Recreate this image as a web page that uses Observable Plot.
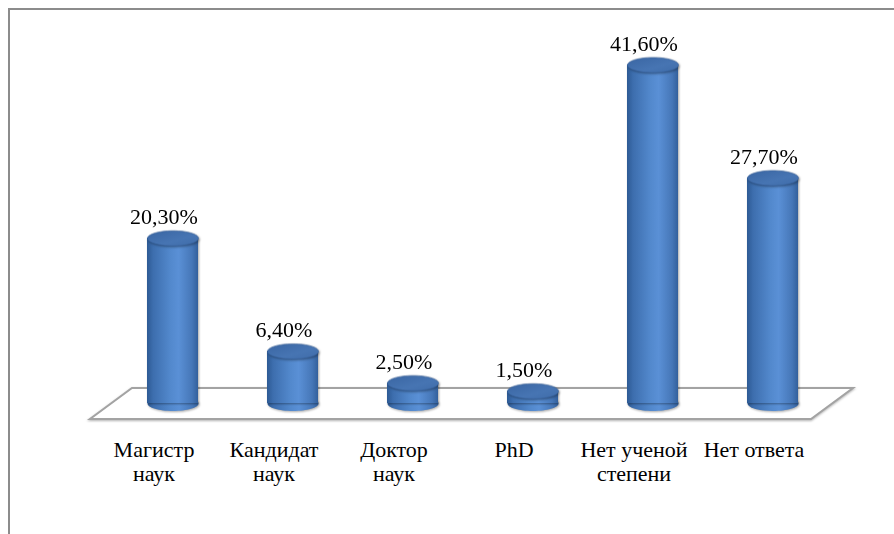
<!DOCTYPE html>
<html>
<head>
<meta charset="utf-8">
<script src="https://cdn.jsdelivr.net/npm/d3@7"></script>
<script src="https://cdn.jsdelivr.net/npm/@observablehq/plot@0.6"></script>
<style>
  html, body { margin: 0; padding: 0; background: #fff; }
  #chart svg { display: block; }
  #chart svg text { font-family: "Liberation Serif", "Times New Roman", Tinos, "DejaVu Serif", serif !important; }
  #chart g[aria-label="bar"], #chart g[aria-label="dot"] { filter: drop-shadow(1px 1px 1.2px rgba(0,0,0,0.35)); }
</style>
</head>
<body>
<div id="chart"></div>
<script>
// ---- data ----
const categories = ["Магистр наук", "Кандидат наук", "Доктор наук", "PhD", "Нет ученой степени", "Нет ответа"];
const categoryLabels = ["Магистр\nнаук", "Кандидат\nнаук", "Доктор\nнаук", "PhD", "Нет ученой\nстепени", "Нет ответа"];
const values = [20.3, 6.4, 2.5, 1.5, 41.6, 27.7];
const valueLabels = ["20,30%", "6,40%", "2,50%", "1,50%", "41,60%", "27,70%"];

const data = categories.map((c, i) => ({cat: c, label: categoryLabels[i], value: values[i], vlabel: valueLabels[i]}));

// ellipse symbol (cylinder caps)
const RX = 25.5, RY = 7.5;
const ellipseSymbol = {
  draw(ctx) {
    const k = 0.5523;
    ctx.moveTo(-RX, 0);
    ctx.bezierCurveTo(-RX, -RY * k, -RX * k, -RY, 0, -RY);
    ctx.bezierCurveTo(RX * k, -RY, RX, -RY * k, RX, 0);
    ctx.bezierCurveTo(RX, RY * k, RX * k, RY, 0, RY);
    ctx.bezierCurveTo(-RX * k, RY, -RX, RY * k, -RX, 0);
    ctx.closePath();
  }
};

const NS = "http://www.w3.org/2000/svg";

// defs + frame + floor (decorations using plot scales)
function decorations(index, scales, values, dimensions) {
  const g = document.createElementNS(NS, "g");
  g.innerHTML = `
    <defs>
      <linearGradient id="cylBody" x1="0" x2="1" y1="0" y2="0">
        <stop offset="0" stop-color="#2d5a94"/>
        <stop offset="0.12" stop-color="#3d6eae"/>
        <stop offset="0.45" stop-color="#5288cc"/>
        <stop offset="0.62" stop-color="#5a90d6"/>
        <stop offset="0.88" stop-color="#4677b8"/>
        <stop offset="1" stop-color="#33609c"/>
      </linearGradient>
      <linearGradient id="cylTop" x1="0" x2="1" y1="0" y2="1">
        <stop offset="0" stop-color="#3a66a3"/>
        <stop offset="0.6" stop-color="#4775b3"/>
        <stop offset="1" stop-color="#3f6ca9"/>
      </linearGradient>
    </defs>`;
  const {width, height} = dimensions;
  const frame = document.createElementNS(NS, "path");
  frame.setAttribute("d", `M9,${height}V9H${width}`);
  frame.setAttribute("fill", "none");
  frame.setAttribute("stroke", "#8c8c8c");
  frame.setAttribute("stroke-width", "2");
  g.appendChild(frame);

  const xs = scales.x, ys = scales.y;
  const bw = xs.bandwidth ? xs.bandwidth() : 51;
  const xFirst = xs(categories[0]);
  const xLast = xs(categories[categories.length - 1]) + bw;
  const y0 = ys(0);
  const backY = y0 - 15, frontY = y0 + 16, shift = 42;
  const bl = xFirst - 15, br = xLast + 55;
  const floor = document.createElementNS(NS, "path");
  floor.setAttribute("d", `M${bl},${backY}H${br}L${br - shift},${frontY}H${bl - shift}Z`);
  floor.setAttribute("fill", "#fff");
  floor.setAttribute("stroke", "#a3a3a3");
  floor.setAttribute("stroke-width", "2");
  floor.setAttribute("style", "filter: drop-shadow(0.5px 1px 0.8px rgba(0,0,0,0.3))");
  g.appendChild(floor);
  return g;
}

const font = "Liberation Serif";

const chart = Plot.plot({
  width: 894,
  height: 534,
  marginLeft: 75,
  marginRight: 25,
  marginTop: 64.5,
  marginBottom: 131,
  style: {fontFamily: font, background: "#fff"},
  x: {domain: categories, padding: 0.578, axis: null},
  y: {domain: [0, 41.6], axis: null},
  marks: [
    decorations,
    Plot.dot(data, {x: "cat", y: () => 0, symbol: ellipseSymbol, fill: "url(#cylBody)", stroke: "none", r: 5}),
    Plot.barY(data, {x: "cat", y1: () => 0, y2: "value", fill: "url(#cylBody)"}),
    Plot.dot(data, {x: "cat", y: "value", symbol: ellipseSymbol, fill: "url(#cylTop)", stroke: "#36609a", strokeWidth: 0.6, r: 5}),
    Plot.text(data, {x: "cat", y: "value", text: "vlabel", dx: -9, dy: -21, fontSize: 22, fill: "#000", fontFamily: font}),
    Plot.text(data, {x: "cat", y: () => 0, text: "label", dx: -19, dy: 36, lineAnchor: "top", lineHeight: 1.1, fontSize: 22, fill: "#000", fontFamily: font})
  ]
});

document.getElementById("chart").appendChild(chart);
</script>
</body>
</html>
